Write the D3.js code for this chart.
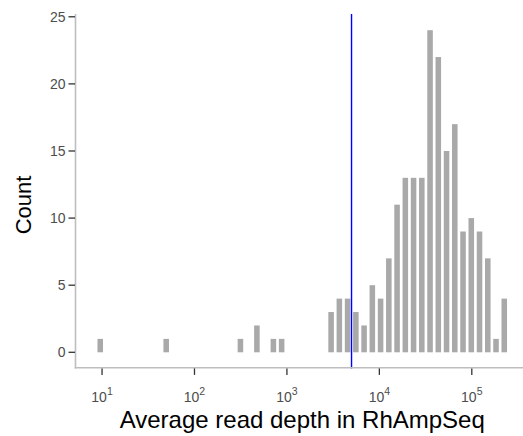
<!DOCTYPE html>
<html>
<head>
<meta charset="utf-8">
<script src="https://cdn.jsdelivr.net/npm/d3@7"></script>
<style>
  body { margin: 0; background: #fff; }
  svg text { font-family: "Liberation Sans", Arial, Helvetica, sans-serif; }
</style>
</head>
<body>
<svg id="chart" width="523" height="436"></svg>
<script>
// histogram of log10(average read depth), 50 bins
const binStartLog = 0.9358;   // left edge of first bin (log10)
const binWidthLog = 0.0892;
const counts = [
  1, 0, 0, 0, 0, 0, 0, 0, 1, 0,
  0, 0, 0, 0, 0, 0, 0, 1, 0, 2,
  0, 1, 1, 0, 0, 0, 0, 0, 3, 4,
  4, 3, 2, 5, 4, 7, 11, 13, 13, 13,
  24, 22, 15, 17, 9, 10, 9, 7, 1, 4
];
const cutoff = 5000;
const xTicks = [1e1, 1e2, 1e3, 1e4, 1e5];
const yTicks = [0, 5, 10, 15, 20, 25];
const xTitle = 'Average read depth in RhAmpSeq';
const yTitle = 'Count';

const bins = counts.map((c, i) => ({
  x0: Math.pow(10, binStartLog + i * binWidthLog),
  x1: Math.pow(10, binStartLog + (i + 1) * binWidthLog),
  count: c
}));

const svg = d3.select('#chart');
const panel = { left: 75.5, right: 529, top: 14.1, bottom: 368.4 };

// ggplot-style 5% expansion
const lo = binStartLog, hi = binStartLog + counts.length * binWidthLog;
const pad = (hi - lo) * 0.05;
const x = d3.scaleLog()
  .domain([Math.pow(10, lo - pad), Math.pow(10, hi + pad)])
  .range([panel.left, panel.right]);
const yMax = d3.max(counts);
const y = d3.scaleLinear()
  .domain([-yMax * 0.05, yMax * 1.05])
  .range([panel.bottom, panel.top]);

// bars
const gap = 1.35;
svg.append('g')
  .selectAll('rect')
  .data(bins.filter(d => d.count > 0))
  .enter().append('rect')
    .attr('x', d => x(d.x0) + gap)
    .attr('width', d => x(d.x1) - x(d.x0) - 2 * gap)
    .attr('y', d => y(d.count))
    .attr('height', d => y(0) - y(d.count))
    .attr('fill', '#a9a9a9');

// cutoff line
svg.append('line')
  .attr('x1', x(cutoff)).attr('x2', x(cutoff))
  .attr('y1', panel.top).attr('y2', panel.bottom)
  .attr('stroke', '#0000ff')
  .attr('stroke-width', 1.4);

// axis lines
svg.append('line')
  .attr('x1', panel.left).attr('x2', panel.left)
  .attr('y1', panel.top).attr('y2', panel.bottom)
  .attr('stroke', '#bebebe').attr('stroke-width', 1.6);
svg.append('line')
  .attr('x1', panel.left - 0.8).attr('x2', panel.right)
  .attr('y1', panel.bottom - 0.7).attr('y2', panel.bottom - 0.7)
  .attr('stroke', '#bebebe').attr('stroke-width', 1.6);

// y ticks
const yAxis = svg.append('g');
yTicks.forEach(t => {
  yAxis.append('line')
    .attr('x1', panel.left - 7).attr('x2', panel.left - 0.5)
    .attr('y1', y(t)).attr('y2', y(t))
    .attr('stroke', '#333').attr('stroke-width', 1.3);
  yAxis.append('text')
    .attr('x', panel.left - 10).attr('y', y(t))
    .attr('dy', '0.36em')
    .attr('text-anchor', 'end')
    .attr('font-size', 14)
    .attr('fill', '#4d4d4d')
    .text(t);
});

// x ticks
const xAxis = svg.append('g');
xTicks.forEach(t => {
  const px = x(t);
  xAxis.append('line')
    .attr('x1', px).attr('x2', px)
    .attr('y1', panel.bottom).attr('y2', panel.bottom + 6.5)
    .attr('stroke', '#333').attr('stroke-width', 1.3);
  const lbl = xAxis.append('text')
    .attr('x', px).attr('y', 401.5)
    .attr('text-anchor', 'middle')
    .attr('font-size', 14)
    .attr('fill', '#4d4d4d');
  lbl.append('tspan').text('10');
  lbl.append('tspan')
    .attr('dy', -6.5)
    .attr('font-size', 10.5)
    .text(Math.round(Math.log10(t)));
});

// titles
svg.append('text')
  .attr('x', (panel.left + panel.right) / 2)
  .attr('y', 427.5)
  .attr('text-anchor', 'middle')
  .attr('font-size', 24)
  .attr('fill', '#000')
  .text(xTitle);
svg.append('text')
  .attr('transform', 'translate(31,205) rotate(-90)')
  .attr('text-anchor', 'middle')
  .attr('font-size', 22)
  .attr('fill', '#000')
  .text(yTitle);
</script>
</body>
</html>
